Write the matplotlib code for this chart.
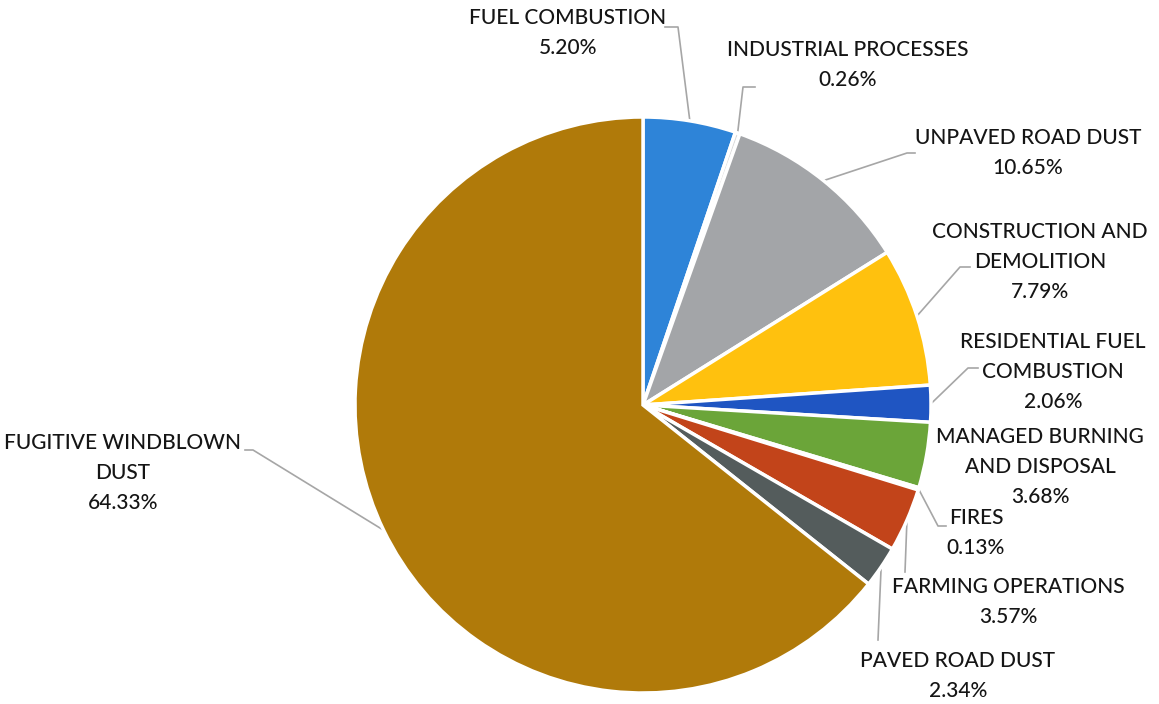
"""Pie chart of emission source shares with leader-line labels."""

import matplotlib.pyplot as plt
import numpy as np

# %% Data
sources = [
    "FUEL COMBUSTION",
    "INDUSTRIAL PROCESSES",
    "UNPAVED ROAD DUST",
    "CONSTRUCTION AND\nDEMOLITION",
    "RESIDENTIAL FUEL\nCOMBUSTION",
    "MANAGED BURNING\nAND DISPOSAL",
    "FIRES",
    "FARMING OPERATIONS",
    "PAVED ROAD DUST",
    "FUGITIVE WINDBLOWN\nDUST",
]
shares = [5.20, 0.26, 10.65, 7.79, 2.06, 3.68, 0.13, 3.57, 2.34, 64.33]

colors = [
    "#2E84D8", "#D9D9D9", "#A3A5A8", "#FFC10E", "#1F55C2",
    "#6BA539", "#9E480E", "#C2441A", "#545C5C", "#B07A0A",
]

# %% Layout (pixel coordinates, y measured from the top)
W, H = 1159, 704
CENTER = (643, 405)
RADIUS = 288

label_pos = [
    (568, 33), (848, 65), (1028, 153), (1040, 262), (1053, 372),
    (1040, 467), (976, 533), (1008, 602), (958, 676), (123, 473),
]
# elbow points of each leader line (None = no leader)
leaders = [
    [(678, 27), (665, 27)],
    [(743, 87), (755, 87)],
    [(907, 153), (915, 153)],
    [(960, 267), (970, 267)],
    [(968, 368), (978, 368)],
    None,
    [(938, 526), (946, 526)],
    [(905, 572)],
    [(878, 640)],
    [(253, 450), (245, 450)],
]


def flip(pt):
    return pt[0], H - pt[1]


# %% Plot
plt.rcParams["font.family"] = ["Lato", "DejaVu Sans"]
fig = plt.figure(figsize=(W / 100, H / 100), dpi=100)
ax = fig.add_axes([0, 0, 1, 1])

wedges, _ = ax.pie(
    shares,
    colors=colors,
    startangle=90,
    counterclock=False,
    center=flip(CENTER),
    radius=RADIUS,
    wedgeprops=dict(edgecolor="white", linewidth=2.5),
    frame=True,
)
ax.set_xlim(0, W)
ax.set_ylim(0, H)
ax.set_aspect("equal")
ax.axis("off")

cx, cy = flip(CENTER)
for wedge, name, share, pos, elbows in zip(
    wedges, sources, shares, label_pos, leaders, strict=True
):
    x, y = flip(pos)
    ax.text(
        x, y, f"{name}\n{share:.2f}%",
        ha="center", va="center", fontsize=15, linespacing=1.6,
        color="#151515", fontweight="medium",
    )
    if elbows is None:
        continue
    mid = np.deg2rad((wedge.theta1 + wedge.theta2) / 2)
    xs = [cx + RADIUS * np.cos(mid)] + [p[0] for p in elbows]
    ys = [cy + RADIUS * np.sin(mid)] + [H - p[1] for p in elbows]
    ax.plot(xs, ys, color="#A6A6A6", linewidth=1.2, zorder=0.5)

fig.savefig("out.png", dpi=100, facecolor="white")
